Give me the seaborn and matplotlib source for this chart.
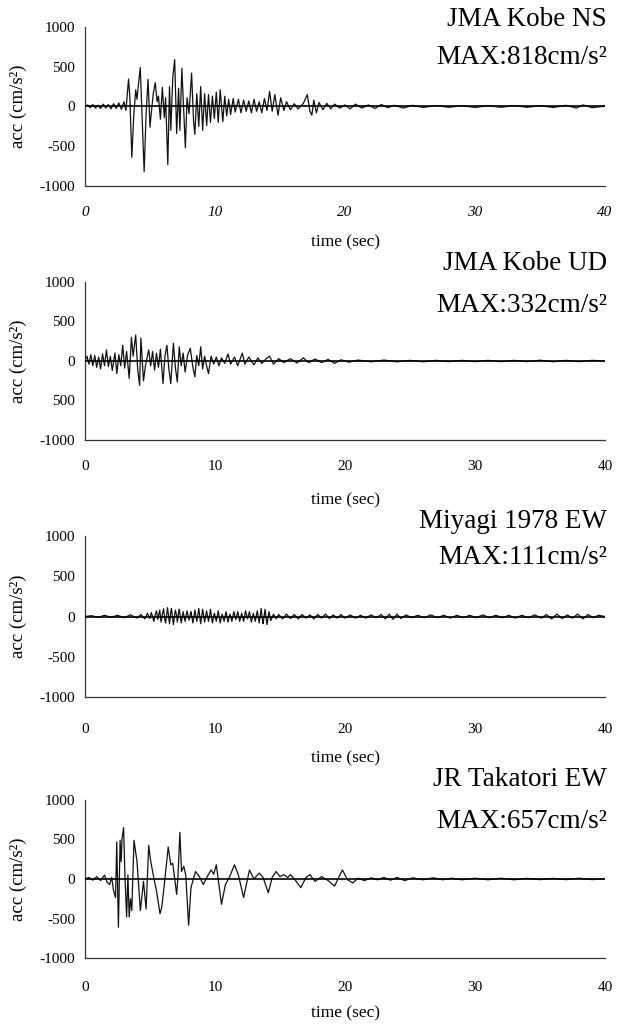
import matplotlib
matplotlib.use("Agg")
import matplotlib.pyplot as plt
import seaborn as sns

# ---------------- data (peaks) ----------------
kobe_ns = [(0.0,0),(0.2,20),(0.4,-15),(0.6,25),(0.8,-20),(1.0,15),(1.2,-25),(1.4,30),(1.6,-20),(1.8,25),
 (2.0,-30),(2.2,35),(2.4,-25),(2.6,45),(2.8,-35),(3.0,60),(3.15,-50),(3.35,345),(3.45,120),(3.6,-640),
 (3.75,-120),(3.9,210),(4.0,90),(4.1,260),(4.25,490),(4.4,-180),(4.55,-820),(4.7,-90),(4.85,340),(5.0,-260),
 (5.1,-80),(5.25,160),(5.4,300),(5.55,60),(5.65,130),(5.8,-160),(5.95,240),(6.1,-140),(6.2,110),(6.37,-730),
 (6.5,250),(6.6,-300),(6.75,360),(6.9,590),(7.05,-340),(7.2,230),(7.3,-300),(7.45,480),(7.6,-90),(7.72,-520),
 (7.85,110),(8.0,-90),(8.2,420),(8.35,-180),(8.45,-350),(8.6,160),(8.75,-250),(8.9,250),(9.05,-300),(9.2,160),
 (9.36,-240),(9.5,150),(9.65,-200),(9.8,130),(9.95,-150),(10.1,180),(10.25,-200),(10.4,210),(10.6,-190),
 (10.75,130),(10.9,-120),(11.05,90),(11.2,-100),(11.4,100),(11.55,-70),(11.8,90),(12.0,-80),(12.2,80),
 (12.4,-60),(12.6,70),(12.8,-80),(13.0,90),(13.2,-60),(13.4,60),(13.6,-80),(13.8,100),(14.0,-50),(14.2,190),
 (14.4,-60),(14.6,150),(14.85,-110),(15.05,110),(15.3,-50),(15.5,60),(15.8,-40),(16.1,35),(16.4,-30),
 (16.8,40),(17.1,150),(17.3,-60),(17.45,-110),(17.6,80),(17.8,-80),(18.0,50),(18.3,-40),(18.6,40),(18.9,-30),
 (19.2,30),(19.6,-20),(20.0,20),(20.4,-30),(20.8,30),(21.3,-20),(21.8,20),(22.3,-25),(22.8,25),(23.3,-15),
 (23.8,15),(24.5,-20),(25.2,15),(26.0,-12),(27.0,12),(28.0,-10),(29.0,10),(30.0,-12),(31.0,10),(32.0,-10),
 (33.0,12),(34.0,-10),(35.0,10),(36.0,-12),(37.0,15),(37.8,-20),(38.3,20),(39.0,-15),(40.0,5)]

kobe_ud = [(0.0,0),(0.15,60),(0.3,-40),(0.45,80),(0.6,-60),(0.75,70),(0.9,-80),(1.05,50),(1.2,-100),(1.35,90),
 (1.5,-60),(1.65,140),(1.8,-70),(1.95,60),(2.1,-120),(2.3,100),(2.45,-160),(2.6,80),(2.75,-60),(2.9,200),
 (3.05,-90),(3.2,120),(3.4,-220),(3.57,300),(3.7,60),(3.9,330),(4.05,-100),(4.2,-310),(4.3,290),(4.5,-250),
 (4.65,-60),(4.9,140),(5.05,-60),(5.2,120),(5.35,-115),(5.5,100),(5.65,-80),(5.8,150),(6.0,-285),(6.15,60),
 (6.3,200),(6.45,-100),(6.6,-285),(6.8,225),(6.95,-80),(7.1,-265),(7.25,180),(7.4,-60),(7.55,100),(7.7,-140),
 (7.9,80),(8.1,160),(8.3,-80),(8.45,-200),(8.6,70),(8.75,-60),(8.9,180),(9.05,-100),(9.2,60),(9.35,-60),
 (9.5,-160),(9.7,60),(9.9,-40),(10.1,50),(10.3,-60),(10.5,40),(10.75,-30),(11.0,90),(11.2,-40),(11.5,50),
 (11.75,-60),(12.1,100),(12.3,-40),(12.6,50),(13.0,-50),(13.3,40),(13.6,-30),(14.0,40),(14.2,60),(14.5,-40),
 (14.9,30),(15.3,-20),(15.8,30),(16.3,-25),(16.8,40),(17.2,-20),(17.7,25),(18.2,-20),(18.7,20),(19.2,-30),
 (19.7,15),(20.3,-15),(21.0,12),(22.0,-10),(23.0,12),(24.0,-10),(25.0,8),(26.0,-10),(27.0,8),(28.0,-8),
 (29.0,8),(30.0,-8),(31.0,8),(32.0,-8),(33.0,8),(34.0,-8),(35.0,10),(36.0,-10),(37.0,8),(38.0,-8),(39.0,8),(40.0,0)]

miyagi_ew = [(0.0,0),(0.5,10),(1.0,-10),(1.5,15),(2.0,-10),(2.5,15),(3.0,-15),(3.5,20),(4.0,-20),(4.3,25),
 (4.6,-30),(4.8,40),(5.0,-25),(5.1,50),(5.3,-60),(5.4,20),(5.5,70),(5.6,-35),(5.75,80),(5.85,-70),(5.95,30),
 (6.05,95),(6.15,-50),(6.2,-80),(6.3,40),(6.35,110),(6.45,-20),(6.5,-90),(6.6,60),(6.65,100),(6.75,-40),
 (6.8,-100),(6.95,80),(7.05,10),(7.1,-70),(7.2,50),(7.25,90),(7.35,-30),(7.4,-80),(7.55,60),(7.65,-20),
 (7.7,-60),(7.85,70),(8.0,-45),(8.1,30),(8.15,60),(8.3,-80),(8.4,20),(8.45,80),(8.6,-60),(8.7,40),
 (8.75,100),(8.85,-30),(8.9,-90),(9.05,90),(9.15,-20),(9.2,-70),(9.35,70),(9.5,-60),(9.6,30),(9.65,90),
 (9.8,-80),(9.95,40),(10.1,-60),(10.25,70),(10.4,-80),(10.55,30),(10.7,-60),(10.85,60),(11.0,-70),(11.15,30),
 (11.3,-60),(11.45,60),(11.6,-40),(11.75,60),(11.9,-60),(12.05,40),(12.2,-60),(12.35,70),(12.5,-30),
 (12.65,60),(12.8,-70),(12.95,40),(13.1,-60),(13.25,70),(13.4,-80),(13.5,30),(13.55,100),(13.65,-40),
 (13.7,-90),(13.85,90),(14.0,-100),(14.15,60),(14.3,-50),(14.5,30),(14.7,-30),(14.9,25),(15.2,-30),(15.5,30),
 (15.8,-25),(16.1,25),(16.4,-30),(16.7,25),(17.0,-20),(17.3,20),(17.6,-30),(17.9,25),(18.2,-20),(18.5,30),
 (18.8,-25),(19.1,20),(19.4,-20),(19.7,25),(20.0,-20),(20.4,20),(20.8,-20),(21.2,15),(21.6,-20),(22.0,20),
 (22.4,-15),(22.8,25),(23.1,-30),(23.4,30),(23.7,-35),(24.0,30),(24.3,-25),(24.7,20),(25.1,-15),(25.6,15),
 (26.1,-15),(26.6,20),(27.1,-15),(27.6,15),(28.1,-20),(28.6,15),(29.1,-15),(29.6,15),(30.1,-15),(30.6,20),
 (31.1,-15),(31.6,15),(32.1,-15),(32.6,15),(33.1,-20),(33.6,15),(34.1,-15),(34.6,20),(35.1,-20),(35.5,25),
 (35.9,-30),(36.3,30),(36.7,-25),(37.1,20),(37.5,-20),(37.9,30),(38.3,-30),(38.7,25),(39.1,-15),(39.5,15),
 (40.0,0)]

takatori_ew = [(0.0,0),(0.3,20),(0.6,-15),(0.9,30),(1.2,-20),(1.5,50),(1.7,-40),(1.9,-70),(2.05,20),(2.2,-150),
 (2.35,-235),(2.44,470),(2.57,-610),(2.7,490),(2.78,220),(2.85,510),(2.97,650),(3.07,50),(3.2,-480),(3.3,50),
 (3.4,-480),(3.5,-250),(3.6,-400),(3.77,490),(4.0,220),(4.26,-400),(4.5,-30),(4.7,-380),(4.9,425),(5.05,230),
 (5.25,50),(5.5,-150),(5.77,-440),(5.9,-360),(6.05,-150),(6.4,405),(6.6,180),(6.75,200),(7.05,-195),
 (7.15,30),(7.3,590),(7.42,95),(7.6,160),(7.75,50),(7.97,-585),(8.15,-110),(8.5,95),(8.8,30),(9.1,-70),
 (9.4,30),(9.7,115),(9.9,60),(10.1,180),(10.5,-320),(10.8,-70),(11.1,20),(11.5,180),(11.8,50),(12.2,-235),
 (12.65,115),(13.0,0),(13.4,75),(13.7,20),(14.1,-175),(14.4,20),(14.7,95),(15.0,30),(15.3,55),(15.6,20),
 (15.8,55),(16.2,-20),(16.6,-110),(17.0,20),(17.3,55),(17.7,-30),(18.2,30),(18.7,-20),(19.2,-90),(19.8,115),
 (20.2,-10),(20.6,-50),(21.0,10),(21.5,-20),(22.0,15),(22.5,-10),(23.0,20),(23.5,-15),(24.0,20),(24.6,-20),
 (25.2,15),(26.0,-10),(26.8,15),(27.5,-10),(28.2,10),(29.0,-10),(30.0,10),(31.0,-10),(32.0,10),(33.0,-10),
 (34.0,8),(35.0,-8),(36.0,8),(37.0,-8),(38.0,10),(39.0,-8),(40.0,5)]

titles = ["JMA Kobe NS", "JMA Kobe UD", "Miyagi 1978 EW", "JR Takatori EW"]
max_labels = ["MAX:818cm/s\u00b2", "MAX:332cm/s\u00b2", "MAX:111cm/s\u00b2", "MAX:657cm/s\u00b2"]
series = [kobe_ns, kobe_ud, miyagi_ew, takatori_ew]
x_ticks = [0, 10, 20, 30, 40]
y_ticks = [1000, 500, 0, -500, -1000]
y_ticklabels = [
    ["1000", "500", "0", "-500", "-1000"],
    ["1000", "500", "0", "500", "-1000"],
    ["1000", "500", "0", "-500", "-1000"],
    ["1000", "500", "0", "-500", "-1000"],
]

# ---------------- layout (pixels of the 621x1025 canvas) ----------------
W, H = 621, 1025
ax_left, ax_right = 85, 605
ax_tops = [27, 282, 536, 800]
ax_bots = [186, 440, 697, 958]
title_y = [20, 264, 522, 780]
max_y = [57, 305, 557, 822]
xtick_y = [212, 466, 729, 987]
xlabel_y = [242, 500, 758, 1013]

sns.set_style("white")
plt.rcParams["font.family"] = ["Liberation Serif", "DejaVu Serif"]
plt.rcParams["text.color"] = "black"
plt.rcParams["axes.labelcolor"] = "black"
plt.rcParams["xtick.color"] = "black"
plt.rcParams["ytick.color"] = "black"

fig = plt.figure(figsize=(W / 100, H / 100), dpi=100)

for i, data in enumerate(series):
    t = [p[0] for p in data]
    a = [p[1] for p in data]
    top, bot = ax_tops[i], ax_bots[i]
    ax = fig.add_axes([ax_left / W, 1 - bot / H, (ax_right - ax_left) / W, (bot - top) / H])
    sns.lineplot(x=t, y=a, ax=ax, color="#111111", lw=0.9, estimator=None, sort=False)
    ax.axhline(0, color="black", lw=1.2, zorder=3)
    ax.set_xlim(0, 40)
    ax.set_ylim(-1000, 1000)
    ax.set_xticks(x_ticks)
    ax.set_xticklabels([str(v) for v in x_ticks], fontsize=11,
                       fontstyle="italic" if i == 0 else "normal")
    ax.set_yticks(y_ticks)
    ax.set_yticklabels(y_ticklabels[i], fontsize=11)
    for s in ["top", "right"]:
        ax.spines[s].set_visible(False)
    for s in ["left", "bottom"]:
        ax.spines[s].set_color("#333333")
        ax.spines[s].set_linewidth(0.9)
    hpx = bot - top
    ax.tick_params(axis="y", direction="in", length=4, width=0.8, pad=7, colors="#333333", labelcolor="black")
    ax.tick_params(axis="x", direction="in", length=5, width=0.8,
                   pad=(xtick_y[i] - bot - 6) / 1.389, colors="#333333", labelcolor="black")
    ax.set_xlabel("time (sec)", fontsize=12.5, color="black")
    ax.xaxis.set_label_coords(0.5, -(xlabel_y[i] - bot) / hpx)
    ax.xaxis.label.set_va("center")
    ax.set_ylabel("acc (cm/s\u00b2)", fontsize=13.5, color="black")
    ax.yaxis.set_label_coords((18 - ax_left) / (ax_right - ax_left), 0.5)
    ax.yaxis.label.set_va("center")
    fig.text(607 / W, 1 - title_y[i] / H, titles[i], ha="right", va="center", fontsize=19.5, color="black")
    fig.text(607 / W, 1 - max_y[i] / H, max_labels[i], ha="right", va="center", fontsize=19.5, color="black")

fig.savefig("out.png", dpi=100)
